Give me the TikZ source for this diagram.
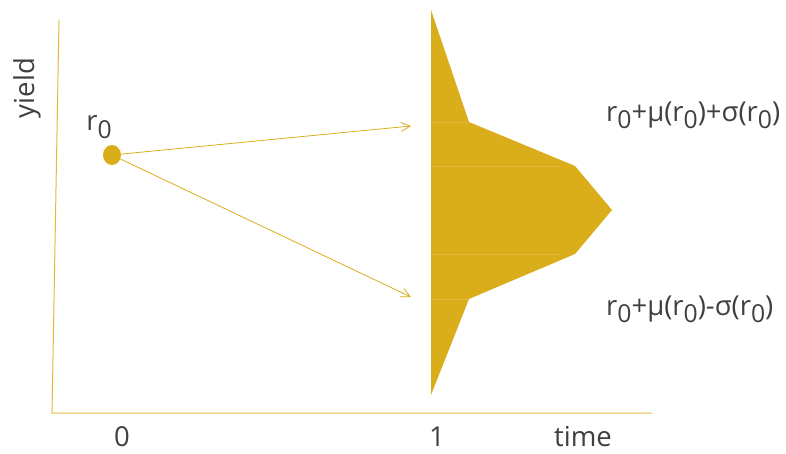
\documentclass[tikz,border=0pt]{standalone}
\usepackage{fontspec}
\setmainfont{Open Sans}
\usepackage{tikz}
\usetikzlibrary{arrows.meta, shapes.geometric}
\definecolor{gold}{HTML}{DAAD1A}
\definecolor{axisgold}{HTML}{E2BB3A}
\definecolor{txtgray}{HTML}{404040}
\newcommand{\rz}{r\raisebox{-0.5ex}{\scalebox{0.9}{0}}}

\begin{document}
\begin{tikzpicture}[x=1pt, y=-1pt,
    lbl/.style={text=txtgray, font=\fontsize{27.5}{30}\selectfont, inner sep=0pt},
    path/.style={gold, line width=0.8pt, -{Straight Barb[length=9pt, width=9pt]}}]
        \useasboundingbox (0,0) rectangle (786,454);
        \draw[axisgold, line width=1pt] (59,20) -- (52,413) -- (652,413);
        \node[lbl, rotate=90] (yl) at (27,88) {yield};
        \node[lbl] (t0) at (122,437) {0};
        \node[lbl] (t1) at (437,437) {1};
        \node[lbl] (tt) at (583,437) {time};

        % distribution at time 1
        \fill[gold] (431,10) -- (469,122) -- (575,166) -- (612,210) -- (575,254)
            -- (469,299) -- (431,395) -- cycle;
        \foreach \y in {122,166,254,299}
            \draw[white, opacity=0.15, line width=0.5pt] (432,\y) -- (560,\y);

        \node[fill=gold, ellipse, inner sep=0pt, minimum width=18pt, minimum height=20pt] (r0dot) at (112,155) {};
        \node[lbl] (r0) at (99,127) {\rz};
        \coordinate (up) at (411,126);
        \coordinate (dn) at (411,297);
        \draw[path] (r0dot) -- (up);
        \draw[path] (r0dot) -- (dn);

        \node[lbl, anchor=west] (hi) at (606,115) {\rz+μ(\rz)+σ(\rz)};
        \node[lbl, anchor=west] (lo) at (606,309) {\rz+μ(\rz)-σ(\rz)};
    \end{tikzpicture}
\end{document}
